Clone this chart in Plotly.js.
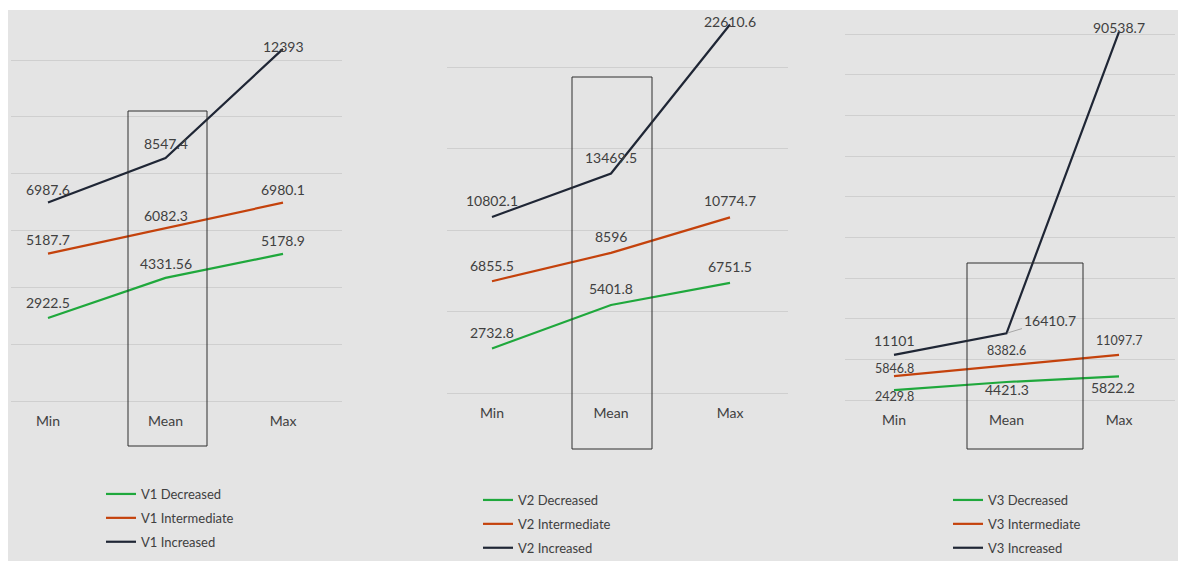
<!DOCTYPE html>
<html>
<head>
<meta charset="utf-8">
<script src="https://cdn.plot.ly/plotly-3.0.1.min.js"></script>
<style>html,body{margin:0;padding:0;background:#fff;}#chart{width:1178px;height:561px;}</style>
</head>
<body>
<div id="chart"></div>
<script>
// ---- data ----
const categories = ['Min', 'Mean', 'Max'];
const seriesNames = ['Decreased', 'Intermediate', 'Increased'];
const variables = ['V1', 'V2', 'V3'];
const v1Decreased = [2922.5, 4331.56, 5178.9];
const v1Intermediate = [5187.7, 6082.3, 6980.1];
const v1Increased = [6987.6, 8547.4, 12393];
const v2Decreased = [2732.8, 5401.8, 6751.5];
const v2Intermediate = [6855.5, 8596, 10774.7];
const v2Increased = [10802.1, 13469.5, 22610.6];
const v3Decreased = [2429.8, 4421.3, 5822.2];
const v3Intermediate = [5846.8, 8382.6, 11097.7];
const v3Increased = [11101, 16410.7, 90538.7];
const panelData = [
  [v1Decreased, v1Intermediate, v1Increased],
  [v2Decreased, v2Intermediate, v2Increased],
  [v3Decreased, v3Intermediate, v3Increased]
];

// ---- layout (pixel geometry) ----
const W = 1178, H = 561;
const colors = ['#1fa83c', '#c4420c', '#1f2635'];
const font = 'Lato, "Open Sans", sans-serif';
const txt = '#404040';
const px = x => x / W;
const py = y => 1 - y / H;
const panels = [
  {xFirst: 48, step: 117.5, gl: [11, 342], y0: 401, yTop: 10, ppu: 341 / 12000, dtick: 2000,
   box: [128, 111, 207, 446], legend: [101, 479],
   shifts: [[15, 14, 13], [14, 13, 13], [13, 15, 2]]},
  {xFirst: 492, step: 119, gl: [447, 788], y0: 393, yTop: 10, ppu: 326 / 20000, dtick: 5000,
   box: [572, 77, 652, 449], legend: [478, 485],
   shifts: [[16, 16, 16], [16, 16, 17], [16, 16, 3]]},
  {xFirst: 894, step: 112.5, gl: [845, 1175], y0: 400, yTop: 10, ppu: 366 / 90000, dtick: 10000,
   box: [967, 263, 1083, 449], legend: [948, 485],
   shifts: [[-6, -7, -11], [8, 15, 14], [14, 0, 4]]}
];
// panel 3 label style tweaks
const smallLabels = {'2-0-0': true, '2-1-0': true, '2-1-1': true, '2-1-2': true};
const xShifts = {'2-0-2': -6};

const traces = [];
const annotations = [];
const shapes = [{type: 'rect', xref: 'paper', yref: 'paper', x0: px(8), x1: 1, y0: 0, y1: py(10),
  fillcolor: '#e4e4e4', line: {width: 0}, layer: 'below'}];
const layout = {
  width: W, height: H, margin: {l: 0, r: 0, t: 0, b: 0, autoexpand: false},
  paper_bgcolor: '#ffffff', plot_bgcolor: 'rgba(0,0,0,0)',
  font: {family: font, color: txt, size: 14},
  showlegend: true, hovermode: false
};

panels.forEach((p, i) => {
  const sfx = i ? String(i + 1) : '';
  const xa = 'xaxis' + sfx, ya = 'yaxis' + sfx, lg = 'legend' + sfx;
  layout[xa] = {
    domain: [px(p.gl[0]), px(p.gl[1])], anchor: 'y' + sfx,
    type: 'category', categoryorder: 'array', categoryarray: categories,
    range: [(p.gl[0] - p.xFirst) / p.step, (p.gl[1] - p.xFirst) / p.step],
    showgrid: false, zeroline: false, showline: false, ticks: '',
    ticklabelstandoff: 10, tickfont: {family: font, size: 14, color: txt}, fixedrange: true
  };
  layout[ya] = {
    domain: [py(p.y0), py(p.yTop)], anchor: 'x' + sfx,
    range: [0, (p.y0 - p.yTop) / p.ppu], dtick: p.dtick, tick0: 0,
    showgrid: true, gridcolor: '#cfcfcf', gridwidth: 1,
    zeroline: true, zerolinecolor: '#cfcfcf', zerolinewidth: 1,
    showline: false, showticklabels: false, ticks: '', fixedrange: true
  };
  layout[lg] = {
    x: px(p.legend[0]), y: py(p.legend[1]), xanchor: 'left', yanchor: 'top',
    bgcolor: 'rgba(0,0,0,0)', borderwidth: 0, traceorder: 'grouped', tracegroupgap: 4,
    font: {family: font, size: 13, color: txt}
  };
  shapes.push({type: 'rect', xref: 'paper', yref: 'paper',
    x0: px(p.box[0]), x1: px(p.box[2]), y0: py(p.box[3]), y1: py(p.box[1]),
    line: {color: '#2e2e2e', width: 1}, fillcolor: 'rgba(0,0,0,0)'});
  panelData[i].forEach((vals, s) => {
    traces.push({
      type: 'scatter', mode: 'lines', x: categories, y: vals,
      name: variables[i] + ' ' + seriesNames[s],
      xaxis: 'x' + sfx, yaxis: 'y' + sfx, legend: lg, legendgroup: 'g' + i + s,
      line: {color: colors[s], width: 2.2}
    });
    vals.forEach((v, c) => {
      const key = i + '-' + s + '-' + c;
      const ann = {
        xref: 'x' + sfx, yref: 'y' + sfx, x: categories[c], y: v,
        text: String(v), showarrow: false,
        yshift: p.shifts[s][c], xshift: xShifts[key] || 0,
        font: {family: font, size: smallLabels[key] ? 12.5 : 14, color: txt}
      };
      if (i === 2 && s === 2 && c === 1) {
        Object.assign(ann, {showarrow: true, arrowhead: 0, arrowwidth: 1, arrowcolor: '#a6a6a6',
          ax: 43, ay: -13, yshift: 0, standoff: 1});
      }
      annotations.push(ann);
    });
  });
});
layout.shapes = shapes;
layout.annotations = annotations;

Plotly.newPlot('chart', traces, layout, {displayModeBar: false, staticPlot: true});
</script>
</body>
</html>
